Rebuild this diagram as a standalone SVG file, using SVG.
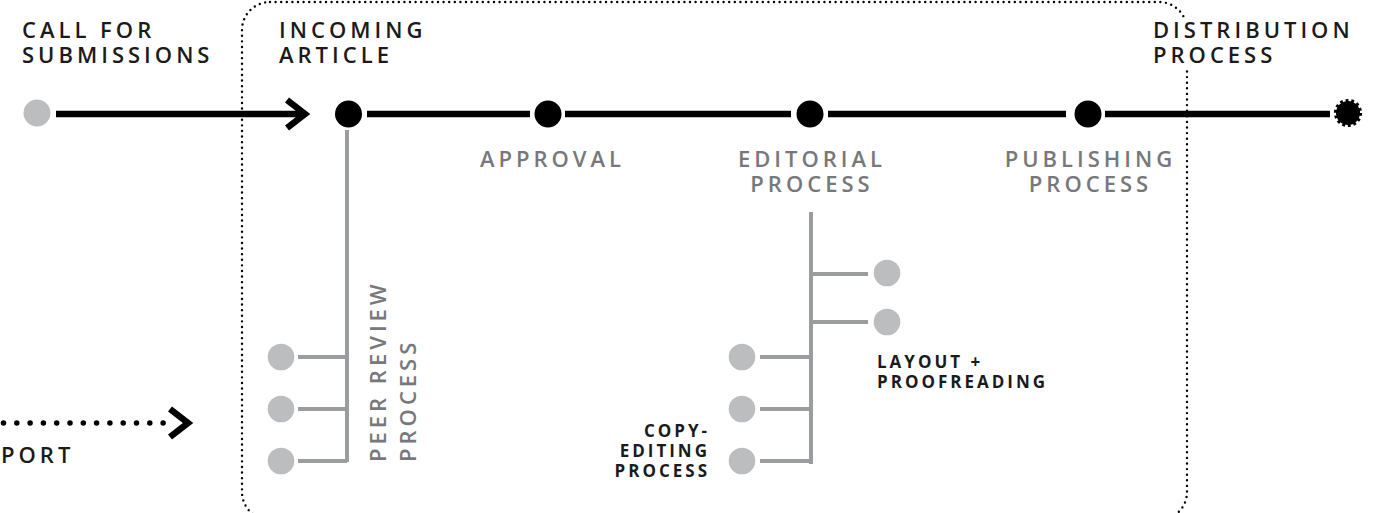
<svg xmlns="http://www.w3.org/2000/svg" width="1381" height="513" viewBox="0 0 1381 513">
<style>
.lbl{font-family:"Open Sans","Liberation Sans",sans-serif;font-weight:600;font-size:22px;letter-spacing:4px}
.dark{fill:#1b1b1b}
.grey{fill:#77787b}
.sm{font-family:"Open Sans","Liberation Sans",sans-serif;font-weight:700;font-size:17px;letter-spacing:3px;fill:#1b1b1b}
.main{stroke:#000;stroke-width:6.5;fill:none}
.chev{stroke:#000;stroke-width:6.5;fill:none;stroke-linejoin:miter}
.branch{stroke:#9b9c9e;stroke-width:4;fill:none}
.gdot{fill:#bcbdbf}
.bdot{fill:#000}
.frame{fill:none;stroke:#000;stroke-width:2.4;stroke-dasharray:0 5.6;stroke-linecap:round}
</style>
<rect width="1381" height="513" fill="#fff"/>
<g id="frame">
<rect class="frame" x="242" y="2" width="945" height="518" rx="28" ry="28"/>
<rect x="1150" y="18" width="135" height="51" fill="#fff"/>
</g>
<g id="connectors">
<line class="main" x1="56" y1="114" x2="303" y2="114"/>
<polyline class="chev" points="287,100 305,114 287,128"/>
<line class="main" x1="367" y1="114" x2="530" y2="114"/>
<line class="main" x1="565" y1="114" x2="791" y2="114"/>
<line class="main" x1="828" y1="114" x2="1066" y2="114"/>
<line class="main" x1="1105" y1="114" x2="1330" y2="114"/>
<line x1="3.5" y1="423" x2="163.2" y2="423" stroke="#000" stroke-width="5.5" stroke-dasharray="0 13.3" stroke-linecap="round"/>
<polyline class="chev" points="170,409 188,423 170,437"/>
<path class="branch" d="M347 130V462M298 357H347M298 409H347M298 461H347"/>
<path class="branch" d="M811 212V464M811 274H868M811 322H868M760 357H811M760 409H811M760 461H811"/>
</g>
<g id="call-for-submissions">
<circle class="gdot" cx="37" cy="113" r="13.5"/>
<text class="lbl dark" x="22" y="38">CALL FOR</text>
<text class="lbl dark" x="22" y="63">SUBMISSIONS</text>
</g>
<g id="incoming-article">
<circle class="bdot" cx="348.5" cy="114" r="13.5"/>
<text class="lbl dark" x="279" y="38">INCOMING</text>
<text class="lbl dark" x="279" y="63">ARTICLE</text>
</g>
<g id="approval">
<circle class="bdot" cx="548" cy="114" r="13.5"/>
<text class="lbl grey" x="552.5" y="167" text-anchor="middle">APPROVAL</text>
</g>
<g id="editorial-process">
<circle class="bdot" cx="810" cy="114" r="13.5"/>
<text class="lbl grey" x="812" y="167" text-anchor="middle">EDITORIAL</text>
<text class="lbl grey" x="812" y="192" text-anchor="middle">PROCESS</text>
</g>
<g id="publishing-process">
<circle class="bdot" cx="1088" cy="114" r="13.5"/>
<text class="lbl grey" x="1090.5" y="167" text-anchor="middle">PUBLISHING</text>
<text class="lbl grey" x="1090.5" y="192" text-anchor="middle">PROCESS</text>
</g>
<g id="distribution-process">
<circle cx="1348" cy="113" r="12" fill="#000"/>
<circle cx="1348" cy="113" r="12.6" fill="none" stroke="#000" stroke-width="3" stroke-dasharray="2.83 2.83"/>
<text class="lbl dark" x="1153" y="38">DISTRIBUTION</text>
<text class="lbl dark" x="1153" y="63">PROCESS</text>
</g>
<g id="peer-review-process">
<circle class="gdot" cx="281" cy="357" r="13.3"/>
<circle class="gdot" cx="281" cy="409" r="13.3"/>
<circle class="gdot" cx="281" cy="461" r="13.3"/>
<g transform="translate(386,462) rotate(-90)">
<text class="lbl grey" x="0" y="0">PEER REVIEW</text>
<text class="lbl grey" x="0" y="30">PROCESS</text>
</g>
</g>
<g id="layout-proofreading">
<circle class="gdot" cx="887" cy="273" r="13.3"/>
<circle class="gdot" cx="887" cy="322" r="13.3"/>
<text class="sm" x="877" y="368">LAYOUT +</text>
<text class="sm" x="877" y="388">PROOFREADING</text>
</g>
<g id="copy-editing-process">
<circle class="gdot" cx="742" cy="357" r="13.3"/>
<circle class="gdot" cx="742" cy="409" r="13.3"/>
<circle class="gdot" cx="742" cy="461" r="13.3"/>
<text class="sm" x="710" y="437" text-anchor="end">COPY-</text>
<text class="sm" x="710" y="457" text-anchor="end">EDITING</text>
<text class="sm" x="710" y="477" text-anchor="end">PROCESS</text>
</g>
<g id="support">
<text class="lbl dark" x="1" y="463">PORT</text>
</g>
</svg>
